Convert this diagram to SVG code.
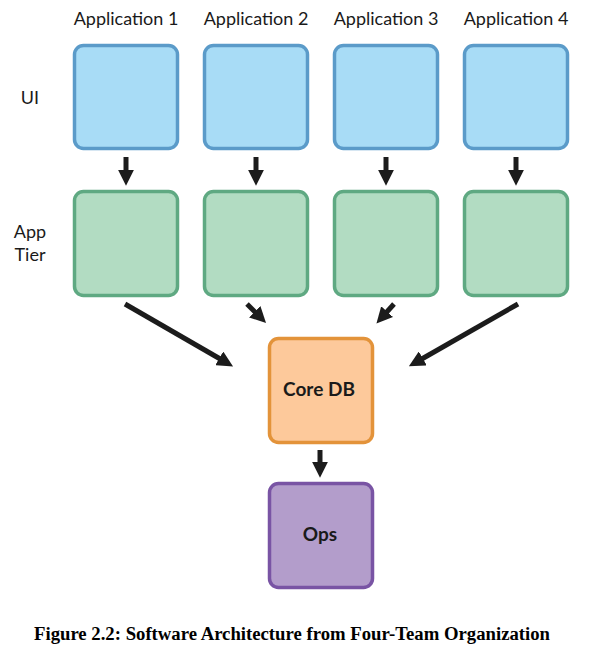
<svg xmlns="http://www.w3.org/2000/svg" width="594" height="652" viewBox="0 0 594 652">
<defs>
<style>
.lbl{font-family:"Lato","Noto Sans",sans-serif;font-size:18px;fill:#1a1a1a}
.ui{fill:#a8dcf6;stroke:#5b9bc9;stroke-width:3.5}
.app{fill:#b2dcc2;stroke:#5fa982;stroke-width:3.5}
.db{fill:#fdc99b;stroke:#e3933a;stroke-width:3.5}
.ops{fill:#b39dcb;stroke:#7954a4;stroke-width:3.5}
.nt{font-family:"Lato","Noto Sans",sans-serif;font-size:19px;font-weight:bold;fill:#1a1a1a;text-anchor:middle}
.cn{stroke:#1c1c1c;stroke-width:5;fill:none;marker-end:url(#ah)}
.cap{font-family:"Liberation Serif",serif;font-size:18px;font-weight:bold;fill:#000}
</style>
<marker id="ah" viewBox="0 0 10 10" refX="2" refY="5" markerWidth="3.2" markerHeight="3.2" orient="auto" markerUnits="strokeWidth">
<path d="M0,0 L10,5 L0,10 z" fill="#1c1c1c"/>
</marker>
</defs>
<g id="labels">
<text class="lbl" x="126" y="25" text-anchor="middle">Application 1</text>
<text class="lbl" x="256" y="25" text-anchor="middle">Application 2</text>
<text class="lbl" x="386" y="25" text-anchor="middle">Application 3</text>
<text class="lbl" x="516" y="25" text-anchor="middle">Application 4</text>
<text class="lbl" x="30" y="104" text-anchor="middle">UI</text>
<text class="lbl" x="30" y="238" text-anchor="middle">App</text>
<text class="lbl" x="30" y="261" text-anchor="middle">Tier</text>
</g>
<g id="ui1"><rect class="ui" x="74.5" y="45.5" width="103" height="103" rx="9"/></g>
<g id="ui2"><rect class="ui" x="204.5" y="45.5" width="103" height="103" rx="9"/></g>
<g id="ui3"><rect class="ui" x="334.5" y="45.5" width="103" height="103" rx="9"/></g>
<g id="ui4"><rect class="ui" x="464.5" y="45.5" width="103" height="103" rx="9"/></g>
<g id="app1"><rect class="app" x="74.5" y="191.5" width="103" height="104" rx="9"/></g>
<g id="app2"><rect class="app" x="204.5" y="191.5" width="103" height="104" rx="9"/></g>
<g id="app3"><rect class="app" x="334.5" y="191.5" width="103" height="104" rx="9"/></g>
<g id="app4"><rect class="app" x="464.5" y="191.5" width="103" height="104" rx="9"/></g>
<g id="coredb"><rect class="db" x="269.5" y="338.5" width="103" height="104" rx="9"/><text class="nt" x="319" y="396">Core DB</text></g>
<g id="ops"><rect class="ops" x="269.5" y="483.5" width="103" height="104" rx="9"/><text class="nt" x="320" y="541">Ops</text></g>
<g id="connectors">
<line class="cn" x1="126" y1="157" x2="126" y2="173"/>
<line class="cn" x1="256" y1="157" x2="256" y2="173"/>
<line class="cn" x1="386" y1="157" x2="386" y2="173"/>
<line class="cn" x1="516" y1="157" x2="516" y2="173"/>
<line class="cn" x1="125" y1="304" x2="222" y2="360"/>
<line class="cn" x1="247" y1="304" x2="257" y2="314"/>
<line class="cn" x1="394" y1="304" x2="385" y2="314"/>
<line class="cn" x1="518" y1="304" x2="420" y2="360"/>
<line class="cn" x1="320" y1="450" x2="320" y2="465"/>
</g>
<text class="cap" x="34" y="640" textLength="516" lengthAdjust="spacingAndGlyphs">Figure 2.2: Software Architecture from Four-Team Organization</text>
</svg>
